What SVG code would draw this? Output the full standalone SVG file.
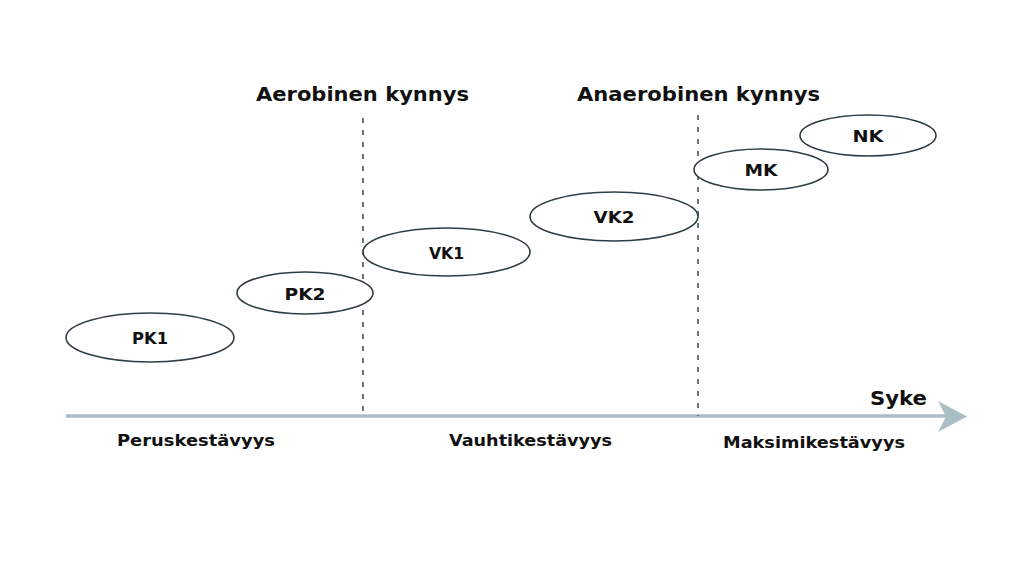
<svg xmlns="http://www.w3.org/2000/svg" width="1024" height="576" viewBox="0 0 1024 576">
<style>
.bg{fill:#ffffff}
.node ellipse{fill:#ffffff;stroke:#2f3d44;stroke-width:1.6}
.lbl{font-family:"DejaVu Sans","Liberation Sans",sans-serif;font-weight:bold;fill:#111111;text-anchor:middle}
.nl{font-size:16px}
.hd{font-size:20px}
.ax{font-size:15.5px}
.dash{stroke:#3a474e;stroke-width:1.5;stroke-dasharray:5 7;fill:none}
.axis{stroke:#a8c0c4;stroke-width:3.5;fill:none}
</style>
<rect class="bg" x="0" y="0" width="1024" height="576"/>
<g id="connectors">
  <line class="axis" x1="66" y1="416" x2="946" y2="416"/>
  <polygon points="938,401 967,416.5 938,432 946,416.5" fill="#a8c0c4"/>
  <line class="dash" x1="363" y1="118" x2="363" y2="416"/>
  <line class="dash" x1="698" y1="115" x2="698" y2="416"/>
</g>
<g id="labels">
  <text class="lbl hd" x="362.5" y="101" textLength="213" lengthAdjust="spacingAndGlyphs">Aerobinen kynnys</text>
  <text class="lbl hd" x="698.5" y="101" textLength="243" lengthAdjust="spacingAndGlyphs">Anaerobinen kynnys</text>
  <text class="lbl hd" x="898.5" y="405" textLength="57" lengthAdjust="spacingAndGlyphs">Syke</text>
  <text class="lbl ax" x="196" y="446" textLength="158" lengthAdjust="spacingAndGlyphs">Peruskestävyys</text>
  <text class="lbl ax" x="530.5" y="446" textLength="163" lengthAdjust="spacingAndGlyphs">Vauhtikestävyys</text>
  <text class="lbl ax" x="814" y="448" textLength="182" lengthAdjust="spacingAndGlyphs">Maksimikestävyys</text>
</g>
<g id="PK1" class="node">
  <ellipse cx="150" cy="337.5" rx="84" ry="24.5"/>
  <text class="lbl nl" x="150" y="344" textLength="36" lengthAdjust="spacingAndGlyphs">PK1</text>
</g>
<g id="PK2" class="node">
  <ellipse cx="305" cy="293" rx="68" ry="21"/>
  <text class="lbl nl" x="305" y="299.5" textLength="41" lengthAdjust="spacingAndGlyphs">PK2</text>
</g>
<g id="VK1" class="node">
  <ellipse cx="446.5" cy="252" rx="83.5" ry="24"/>
  <text class="lbl nl" x="446.5" y="258.5" textLength="35" lengthAdjust="spacingAndGlyphs">VK1</text>
</g>
<g id="VK2" class="node">
  <ellipse cx="614" cy="216.5" rx="84" ry="24.5"/>
  <text class="lbl nl" x="614" y="223" textLength="41" lengthAdjust="spacingAndGlyphs">VK2</text>
</g>
<g id="MK" class="node">
  <ellipse cx="761" cy="169.5" rx="67" ry="20.5"/>
  <text class="lbl nl" x="761" y="176" textLength="33" lengthAdjust="spacingAndGlyphs">MK</text>
</g>
<g id="NK" class="node">
  <ellipse cx="868" cy="135.5" rx="68" ry="20.5"/>
  <text class="lbl nl" x="868" y="142" textLength="31" lengthAdjust="spacingAndGlyphs">NK</text>
</g>
</svg>
